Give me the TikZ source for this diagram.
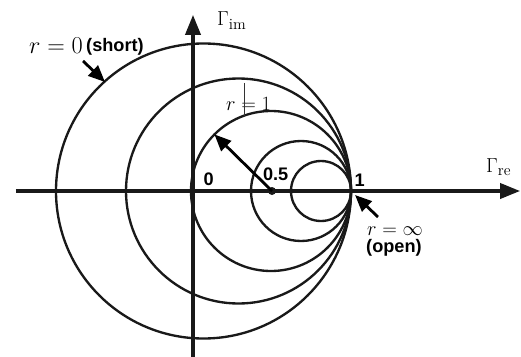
\documentclass[tikz,border=0pt]{standalone}
\usepackage{fontspec}
\setsansfont{Liberation Sans}
\usetikzlibrary{arrows.meta, calc}

\begin{document}
\begin{tikzpicture}[
  line/.style     = {draw=gray!20!black, line width=2pt},
  axis/.style     = {line, line width=2.6pt, -{Triangle[length=0.6cm, width=0.46cm]}},
  pointer/.style  = {draw=black, line width=2.4pt, -{Triangle[length=0.5cm, width=0.42cm]}},
  mathlbl/.style  = {font=\fontsize{19}{22}\selectfont, inner sep=0pt},
  gammalbl/.style = {font=\fontsize{19}{21}\selectfont, inner sep=0pt},
  ticklbl/.style  = {font=\fontsize{15.5}{18}\selectfont\sffamily\bfseries, inner sep=0pt},
  dot/.style      = {circle, fill=gray!20!black, inner sep=0pt, minimum size=0.24cm},
]
  \useasboundingbox (-5.79,-4.95) rectangle (9.84,5.73);
  % Axes.
  \coordinate (west)  at (-5.31,0);
  \coordinate (east)  at (9.81,0);
  \coordinate (south) at (0,-5.10);
  \coordinate (north) at (0,5.28);
  \draw[axis] (west) -- (east);
  \draw[axis] (south) -- (north);
  % Constant-r circles, all touching at Gamma = 1.
  \foreach \c/\r in {0.315/4.425, 1.365/3.375, 2.34/2.40, 3.24/1.5, 3.84/0.9}
     \draw[line] (\c,0) circle (\r);
  % Axis labels and ticks.
  \node[gammalbl, anchor=base west] (gim) at (0.72,4.95) {$\Gamma_{\mathrm{im}}$};
  \node[gammalbl, anchor=base west] (gre) at (8.79,0.57) {$\Gamma_{\mathrm{re}}$};
  \node[ticklbl] (tzero) at (0.47,0.345) {0};
  \node[ticklbl] (thalf) at (2.48,0.51)  {0.5};
  \node[ticklbl] (tone)  at (5.00,0.315) {1};
  % Centre of r = 1 and its radius.
  \node[dot] (half) at (2.37,0) {};
  \coordinate (rim) at ($(2.34,0)+(135:2.40)$);
  \draw[pointer] (half.center) -- (rim);
  \node[mathlbl, font=\fontsize{17.5}{20}\selectfont, anchor=base west] (rone) at (0.99,2.41) {$r=1$};
  \draw[gray!40!black, line width=0.6pt] (1.53,3.24) -- (1.53,2.22);
  % Short and open ends.
  \node[mathlbl, font=\fontsize{20.5}{23}\selectfont, anchor=base west] (rzero) at (-4.92,4.11) {$r=0$};
  \node[ticklbl, anchor=base west] (short) at (-3.21,4.18) {(short)};
  \coordinate (p0a) at (-3.30,3.90);
  \coordinate (p0b) at (-2.64,3.27);
  \draw[pointer] (p0a) -- (p0b);
  \node[mathlbl, anchor=base west] (rinf) at (5.22,-1.32) {$r=\infty$};
  \node[ticklbl, anchor=base west] (open) at (5.19,-1.83) {(open)};
  \coordinate (pia) at (5.55,-0.78);
  \coordinate (pib) at (4.86,-0.12);
  \draw[pointer] (pia) -- (pib);
\end{tikzpicture}
\end{document}
